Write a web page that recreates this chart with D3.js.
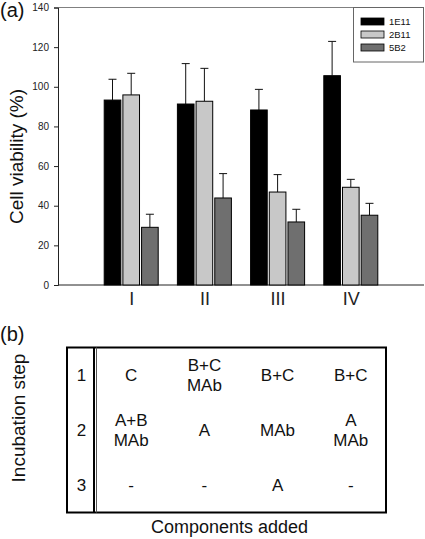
<!DOCTYPE html>
<html>
<head>
<meta charset="utf-8">
<script src="https://cdn.jsdelivr.net/npm/d3@7/dist/d3.min.js"></script>
<style>
  html, body { margin: 0; padding: 0; background: #fff; }
  svg { display: block; font-family: "Liberation Sans", Arial, Helvetica, sans-serif; }
</style>
</head>
<body>
<svg id="chart" width="425" height="539"></svg>
<script>
// ---- data ----
const categories = ["I", "II", "III", "IV"];
const seriesNames = ["1E11", "2B11", "5B2"];
const seriesColors = ["#000000", "#c8c8c8", "#6f6f6f"];
const values1E11 = [93.3, 91.3, 88.3, 105.6];
const errors1E11 = [10.5, 20.4, 10.4, 17.3];
const values2B11 = [95.9, 92.7, 46.9, 49.3];
const errors2B11 = [10.9, 16.6, 8.8, 4.0];
const values5B2 = [29.1, 43.9, 31.8, 35.2];
const errors5B2 = [6.6, 12.3, 6.4, 6.0];
const yTicks = [0, 20, 40, 60, 80, 100, 120, 140];

// table (panel b)
const steps = ["1", "2", "3"];
const step1 = [["C"], ["B+C", "MAb"], ["B+C"], ["B+C"]];
const step2 = [["A+B", "MAb"], ["A"], ["MAb"], ["A", "MAb"]];
const step3 = [["-"], ["-"], ["A"], ["-"]];

(function () {
const seriesValues = [values1E11, values2B11, values5B2];
const seriesErrors = [errors1E11, errors2B11, errors5B2];

const svg = d3.select("#chart");
const font = '"Liberation Sans", Arial, Helvetica, sans-serif';

// ---- panel (a) ----
const pLeft = 58, pRight = 424, pTop = 7.5, pBottom = 285;
const slot = (pRight - pLeft) / 5;
const x = d3.scalePoint().domain(categories).range([pLeft + slot, pRight - slot]);
const groupW = 54;
const xs = d3.scaleBand().domain(seriesNames).range([-groupW / 2, groupW / 2]).paddingInner(0.11);
const y = d3.scaleLinear().domain([0, 140]).range([pBottom, pTop]);

// frame top line
svg.append("line").attr("x1", pLeft).attr("x2", pRight).attr("y1", pTop).attr("y2", pTop)
  .attr("stroke", "#808080").attr("stroke-width", 1);

// y axis
const yAxis = svg.append("g").attr("transform", `translate(${pLeft},0)`)
  .call(d3.axisLeft(y).tickValues(yTicks).tickSize(4).tickPadding(5));
yAxis.select(".domain").attr("stroke", "#222");
yAxis.selectAll(".tick line").attr("stroke", "#222");
yAxis.selectAll(".tick text").attr("font-size", 10).attr("fill", "#222").attr("font-family", font);

// x axis
const xAxis = svg.append("g").attr("transform", `translate(0,${pBottom})`)
  .call(d3.axisBottom(x).tickSize(0).tickPadding(7));
xAxis.select(".domain").remove();
xAxis.selectAll(".tick text").attr("font-size", 18).attr("fill", "#222").attr("font-family", font);
svg.append("line").attr("x1", pLeft).attr("x2", pRight).attr("y1", pBottom).attr("y2", pBottom)
  .attr("stroke", "#222").attr("stroke-width", 1);

// bars + error bars
seriesNames.forEach((s, si) => {
  const g = svg.append("g");
  categories.forEach((c, ci) => {
    const v = seriesValues[si][ci], e = seriesErrors[si][ci];
    const bx = x(c) + xs(s);
    const bw = xs.bandwidth();
    const cx = bx + bw / 2;
    g.append("line").attr("x1", cx).attr("x2", cx).attr("y1", y(v)).attr("y2", y(v + e))
      .attr("stroke", "#111").attr("stroke-width", 1);
    g.append("line").attr("x1", cx - 4).attr("x2", cx + 4).attr("y1", y(v + e)).attr("y2", y(v + e))
      .attr("stroke", "#111").attr("stroke-width", 1);
    g.append("rect").attr("x", bx).attr("y", y(v)).attr("width", bw).attr("height", y(0) - y(v))
      .attr("fill", seriesColors[si]).attr("stroke", "#000").attr("stroke-width", 1);
  });
});

// legend
const lg = svg.append("g");
lg.append("rect").attr("x", 353.5).attr("y", 7.5).attr("width", 70).attr("height", 54.5)
  .attr("fill", "#fff").attr("stroke", "#666").attr("stroke-width", 1);
seriesNames.forEach((s, i) => {
  const cy = 21.5 + i * 13;
  lg.append("rect").attr("x", 361).attr("y", cy - 3.5).attr("width", 23).attr("height", 7)
    .attr("fill", seriesColors[i]).attr("stroke", "#000").attr("stroke-width", 0.8);
  lg.append("text").attr("x", 389).attr("y", cy + 3.3).attr("font-size", 9.5)
    .attr("fill", "#111").attr("font-family", font).text(s);
});

// y title
svg.append("text").attr("transform", `translate(23,156.5) rotate(-90)`)
  .attr("text-anchor", "middle").attr("font-size", 19).attr("fill", "#111")
  .attr("font-family", font).text("Cell viability (%)");

svg.append("text").attr("x", 0).attr("y", 17).attr("font-size", 20).attr("fill", "#111")
  .attr("font-family", font).text("(a)");

// ---- panel (b) ----
svg.append("text").attr("x", 0).attr("y", 341).attr("font-size", 20).attr("fill", "#111")
  .attr("font-family", font).text("(b)");

const tLeft = 67, tRight = 386, tTop = 347.5, tBottom = 512.5;
svg.append("rect").attr("x", tLeft).attr("y", tTop).attr("width", tRight - tLeft).attr("height", tBottom - tTop)
  .attr("fill", "none").attr("stroke", "#000").attr("stroke-width", 2);
svg.append("line").attr("x1", 94).attr("x2", 94).attr("y1", tTop).attr("y2", tBottom)
  .attr("stroke", "#000").attr("stroke-width", 2);
svg.append("line").attr("x1", 96.5).attr("x2", 96.5).attr("y1", tTop).attr("y2", tBottom)
  .attr("stroke", "#555").attr("stroke-width", 1);

const ry = d3.scalePoint().domain(steps).range([375, 485]);
const tableRows = [step1, step2, step3];
const fs = 17, lineGap = 20;

steps.forEach((st, ri) => {
  svg.append("text").attr("x", 81.5).attr("y", ry(st) + fs * 0.36).attr("text-anchor", "middle")
    .attr("font-size", fs).attr("fill", "#111").attr("font-family", font).text(st);
  categories.forEach((c, ci) => {
    const lines = tableRows[ri][ci];
    lines.forEach((t, li) => {
      const cy = ry(st) + (li - (lines.length - 1) / 2) * lineGap;
      svg.append("text").attr("x", x(c)).attr("y", cy + fs * 0.36).attr("text-anchor", "middle")
        .attr("font-size", fs).attr("fill", "#111").attr("font-family", font).text(t);
    });
  });
});

svg.append("text").attr("x", 229.5).attr("y", 533).attr("text-anchor", "middle")
  .attr("font-size", 18).attr("fill", "#111").attr("font-family", font).text("Components added");

svg.append("text").attr("transform", `translate(25,418) rotate(-90)`)
  .attr("text-anchor", "middle").attr("font-size", 19).attr("fill", "#111")
  .attr("font-family", font).text("Incubation step");
})();
</script>
</body>
</html>
